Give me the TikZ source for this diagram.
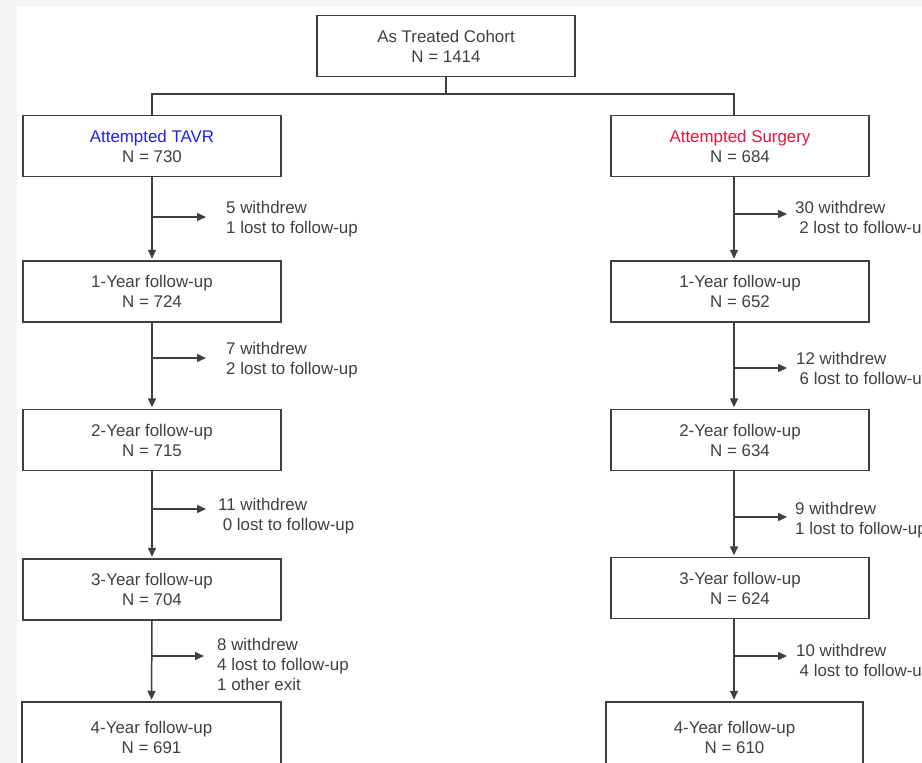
\documentclass[tikz,border=0pt]{standalone}
\usepackage{fontspec}
\setmainfont{Liberation Sans}
\usetikzlibrary{arrows.meta,calc}
\definecolor{ln}{HTML}{3F3F3F}
\definecolor{tx}{HTML}{404040}
\definecolor{tavrc}{HTML}{1F1FEF}
\definecolor{surgc}{HTML}{E8143C}
\definecolor{bgg}{HTML}{F3F3F4}
\begin{document}
\begin{tikzpicture}[x=1pt,y=-1pt,
  box/.style={draw=ln,line width=1.5pt,fill=white,minimum width=258pt,minimum height=61pt,
    align=center,inner sep=0pt,text=tx,font=\fontsize{16.9}{20}\selectfont,
    execute at begin node={\rule{0pt}{16pt}}},
  lbl/.style={anchor=west,align=left,inner sep=0pt,text=tx,font=\fontsize{16.9}{20}\selectfont},
  conn/.style={draw=ln,line width=1.5pt},
  arr/.style={conn,-{Triangle[length=9pt,width=8pt]}},
  down/.style={arr,shorten >=1.5pt}
]
\useasboundingbox (0,0) rectangle (922,763);
\clip (0,0) rectangle (922,763);
\fill[bgg] (0,0) rectangle (922,763);
\fill[white] (17,6) rectangle (922,763);

% boxes
\node[box] (top) at (446,46) {As Treated Cohort\\N = 1414};
\node[box] (tavr) at (152,146) {\textcolor{tavrc}{Attempted TAVR}\\N = 730};
\node[box] (l1) at (152,291.5) {1-Year follow-up\\N = 724};
\node[box] (l2) at (152,440) {2-Year follow-up\\N = 715};
\node[box] (l3) at (152,589.5) {3-Year follow-up\\N = 704};
\node[box,minimum height=70pt,minimum width=259pt] (l4) at (151.5,737) {4-Year follow-up\\N = 691};
\node[box] (sur) at (740,146) {\textcolor{surgc}{Attempted Surgery}\\N = 684};
\node[box] (r1) at (740,291.5) {1-Year follow-up\\N = 652};
\node[box] (r2) at (740,440) {2-Year follow-up\\N = 634};
\node[box] (r3) at (740,588) {3-Year follow-up\\N = 624};
\node[box,minimum height=70pt,minimum width=257pt] (r4) at (734.5,737) {4-Year follow-up\\N = 610};

% top split
\coordinate (hl) at (152,94);
\coordinate (hr) at (734,94);
\coordinate (rx) at (734,0);
\draw[conn] (top.south) -- (top.south |- hl);
\draw[conn] (tavr.north) -- (hl) -- (hr) -- (sur.north -| hr);

% left column
\draw[down] (tavr.south) -- (l1.north);
\draw[down] (l1.south) -- (l2.north);
\draw[down] (l2.south) -- (l3.north);
\draw[down] (l3.south) -- (l4.north);

\coordinate (la1) at (152,217); \coordinate (la1e) at (206,217);
\coordinate (la2) at (152,358); \coordinate (la2e) at (206,358);
\coordinate (la3) at (152,509); \coordinate (la3e) at (206,509);
\coordinate (la4) at (152,656); \coordinate (la4e) at (204,656);
\draw[arr] (la1) -- (la1e);
\draw[arr] (la2) -- (la2e);
\draw[arr] (la3) -- (la3e);
\draw[arr] (la4) -- (la4e);
\node[lbl] (lt1) at (226,219) {5 withdrew\\1 lost to follow-up};
\node[lbl] (lt2) at (226,360) {7 withdrew\\2 lost to follow-up};
\node[lbl] (lt3) at (218,516) {11 withdrew\\\hspace*{4.6pt}0 lost to follow-up};
\node[lbl] (lt4) at (217,664) {8 withdrew\\4 lost to follow-up\\1 other exit};

% right column
\draw[down] (sur.south -| rx) -- (r1.north -| rx);
\draw[down] (r1.south -| rx) -- (r2.north -| rx);
\draw[down] (r2.south -| rx) -- (r3.north -| rx);
\draw[down] (r3.south -| rx) -- (r4.north -| rx);

\coordinate (ra1) at (734,214); \coordinate (ra1e) at (787,214);
\coordinate (ra2) at (734,368); \coordinate (ra2e) at (787,368);
\coordinate (ra3) at (734,517); \coordinate (ra3e) at (787,517);
\coordinate (ra4) at (734,656); \coordinate (ra4e) at (787,656);
\draw[arr] (ra1) -- (ra1e);
\draw[arr] (ra2) -- (ra2e);
\draw[arr] (ra3) -- (ra3e);
\draw[arr] (ra4) -- (ra4e);
\node[lbl] (rt1) at (795,219.5) {30 withdrew\\\hspace*{4.2pt}2 lost to follow-up};
\node[lbl] (rt2) at (796,370) {12 withdrew\\\hspace*{3.5pt}6 lost to follow-up};
\node[lbl] (rt3) at (795,520) {9 withdrew\\1 lost to follow-up};
\node[lbl] (rt4) at (796,662) {10 withdrew\\\hspace*{3.5pt}4 lost to follow-up};
\end{tikzpicture}
\end{document}
